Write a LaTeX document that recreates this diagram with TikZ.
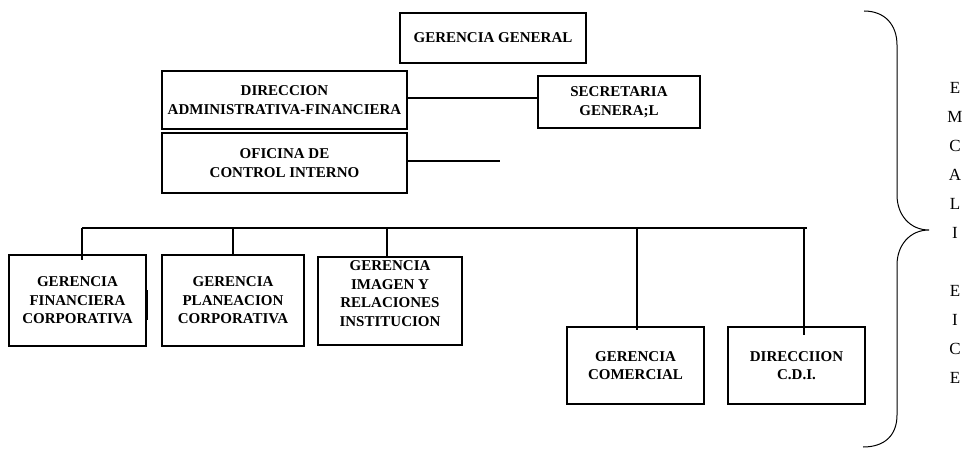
\documentclass[tikz,border=0pt]{standalone}
\usepackage{fontspec}
\setmainfont{Liberation Serif}
\begin{document}
\begin{tikzpicture}[x=1pt,y=-1pt,
  box/.style={draw=black, line width=1.1pt, inner sep=0pt, align=center,
    font=\fontsize{15}{18.5}\selectfont\bfseries},
  conn/.style={draw=black, line width=1.1pt},
  bracestyle/.style={draw=black, line width=1pt},
  side/.style={font=\fontsize{17}{29}\selectfont, align=center, inner sep=0pt}]
\useasboundingbox (0,0) rectangle (969,449);

% boxes
\node[box, minimum width=186pt, minimum height=50pt] (gg) at (493,38) {GERENCIA GENERAL};
\node[box, minimum width=245pt, minimum height=58pt] (da) at (284.5,100) {DIRECCION\\ADMINISTRATIVA-FINANCIERA};
\node[box, minimum width=162pt, minimum height=52pt] (sg) at (619,102) {SECRETARIA\\GENERA;L};
\node[box, minimum width=245pt, minimum height=60pt] (oci) at (284.5,163) {OFICINA DE\\CONTROL INTERNO};

\node[box, minimum width=137pt, minimum height=91pt] (gf) at (77.5,300.5) {GERENCIA\\FINANCIERA\\CORPORATIVA};
\node[box, minimum width=142pt, minimum height=91pt] (gp) at (233,300.5) {GERENCIA\\PLANEACION\\CORPORATIVA};
\node[box, minimum width=144pt, minimum height=88pt] (gi) at (390,301)
  {\raisebox{6pt}[\height][\depth]{\begin{tabular}{@{}c@{}}GERENCIA\\IMAGEN Y\\RELACIONES\\INSTITUCION\end{tabular}}};
\node[box, minimum width=137pt, minimum height=77pt] (gc) at (635.5,365.5) {GERENCIA\\COMERCIAL};
\node[box, minimum width=137pt, minimum height=77pt] (dc) at (796.5,365.5) {DIRECCIION\\C.D.I.};

% connectors
\coordinate (dsline) at (0,98);
\draw[conn] (da.east |- dsline) -- (sg.west |- dsline);
\coordinate (dot) at (489,98);
\draw[line width=2.2pt] ([xshift=-1.5pt]dot) -- ([xshift=1.5pt]dot);

\coordinate (ociend) at (500,161);
\draw[conn] (oci.east |- ociend) -- (ociend);

\coordinate (busL) at (82,228);
\coordinate (busR) at (807,228);
\draw[conn] (busL) -- (busR);

\coordinate (dGF) at (82,260);
\draw[conn] (busL) -- (dGF);
\draw[conn] (gp.north |- busL) -- (gp.north);
\coordinate (dGI) at (387,228);
\draw[conn] (dGI) -- (dGI |- gi.north);
\coordinate (dGC) at (637,228);
\coordinate (dGCe) at (637,330);
\draw[conn] (dGC) -- (dGCe);
\coordinate (dDC) at (804,228);
\coordinate (dDCe) at (804,335);
\draw[conn] (dDC) -- (dDCe);

\coordinate (gfm1) at (147,290);
\coordinate (gfm2) at (147,320);
\draw[conn] (gfm1) -- (gfm2);

% brace
\draw[bracestyle] (864,11) .. controls (885,11) and (897,25) .. (897,45)
  -- (897,195) .. controls (897,215) and (910,230) .. (929,230)
  .. controls (910,230) and (897,245) .. (897,265)
  -- (897,415) .. controls (897,435) and (885,447) .. (863,447);

\node[side] (emcali) at (955,232.5) {E\\M\\C\\A\\L\\I\\\mbox{}\\E\\I\\C\\E};
\end{tikzpicture}
\end{document}
